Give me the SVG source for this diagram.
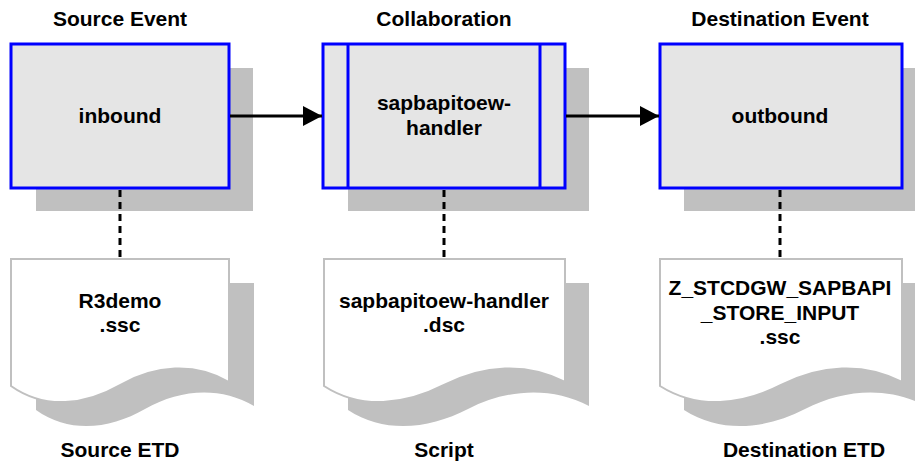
<svg xmlns="http://www.w3.org/2000/svg" width="915" height="466" viewBox="0 0 915 466">
<defs>
<style>
text{font-family:"Liberation Sans",Arial,sans-serif;font-weight:bold;font-size:21px;fill:#000;text-anchor:middle}
.shadow{fill:#c0c0c0;stroke:none}
.box{fill:#e5e5e5;stroke:#0000ff;stroke-width:3}
.doc{fill:#ffffff;stroke:#c0c0c0;stroke-width:2}
.flow{stroke:#000;stroke-width:3;fill:none}
.dash{stroke:#000;stroke-width:3;stroke-dasharray:7,5;fill:none}
</style>
<marker id="arrow" markerUnits="userSpaceOnUse" markerWidth="20" markerHeight="20" refX="19" refY="10" orient="auto">
<path d="M0,0 L19,10 L0,20 Z" fill="#000"/>
</marker>
</defs>
<rect width="915" height="466" fill="#ffffff"/>

<g id="source-event">
<text x="120" y="26">Source Event</text>
<rect class="shadow" x="36" y="68" width="217" height="143"/>
<rect class="box" x="11" y="44" width="218" height="144"/>
<text x="120" y="123">inbound</text>
</g>

<g id="collaboration">
<text x="444" y="26">Collaboration</text>
<rect class="shadow" x="348" y="68" width="241" height="143"/>
<rect class="box" x="323" y="44" width="242" height="144"/>
<line x1="348" y1="44" x2="348" y2="188" stroke="#0000ff" stroke-width="3"/>
<line x1="540" y1="44" x2="540" y2="188" stroke="#0000ff" stroke-width="3"/>
<text x="444" y="110">sapbapitoew-</text>
<text x="444" y="135">handler</text>
</g>

<g id="destination-event">
<text x="780" y="26">Destination Event</text>
<rect class="shadow" x="684" y="68" width="242" height="143"/>
<rect class="box" x="660" y="44" width="242" height="144"/>
<text x="780" y="123">outbound</text>
</g>

<g id="source-etd">
<path class="shadow" transform="translate(25,24)" d="M11,259 H229 V382 C195,362 155,365 120,385 C85,405 45,410 11,386 Z"/>
<path class="doc" d="M11,259 H229 V382 C195,362 155,365 120,385 C85,405 45,410 11,386 Z"/>
<text x="120" y="308">R3demo</text>
<text x="120" y="332">.ssc</text>
<text x="120" y="457">Source ETD</text>
</g>

<g id="script">
<path class="shadow" transform="translate(24,24)" d="M324,259 H565 V382 C527,362 483,365 444,385 C405,405 361,410 324,386 Z"/>
<path class="doc" d="M324,259 H565 V382 C527,362 483,365 444,385 C405,405 361,410 324,386 Z"/>
<text x="444" y="308">sapbapitoew-handler</text>
<text x="444" y="332">.dsc</text>
<text x="444" y="457">Script</text>
</g>

<g id="destination-etd">
<path class="shadow" transform="translate(24,24)" d="M660,259 H902 V382 C864,362 820,365 781,385 C742,405 698,410 660,386 Z"/>
<path class="doc" d="M660,259 H902 V382 C864,362 820,365 781,385 C742,405 698,410 660,386 Z"/>
<text x="780" y="295">Z_STCDGW_SAPBAPI</text>
<text x="780" y="320">_STORE_INPUT</text>
<text x="780" y="344">.ssc</text>
<text x="804" y="457">Destination ETD</text>
</g>

<g id="connectors">
<line class="flow" x1="230" y1="116" x2="322" y2="116" marker-end="url(#arrow)"/>
<line class="flow" x1="566" y1="116" x2="659" y2="116" marker-end="url(#arrow)"/>
<line class="dash" x1="120" y1="190" x2="120" y2="258"/>
<line class="dash" x1="444" y1="190" x2="444" y2="258"/>
<line class="dash" x1="780" y1="190" x2="780" y2="258"/>
</g>
</svg>
